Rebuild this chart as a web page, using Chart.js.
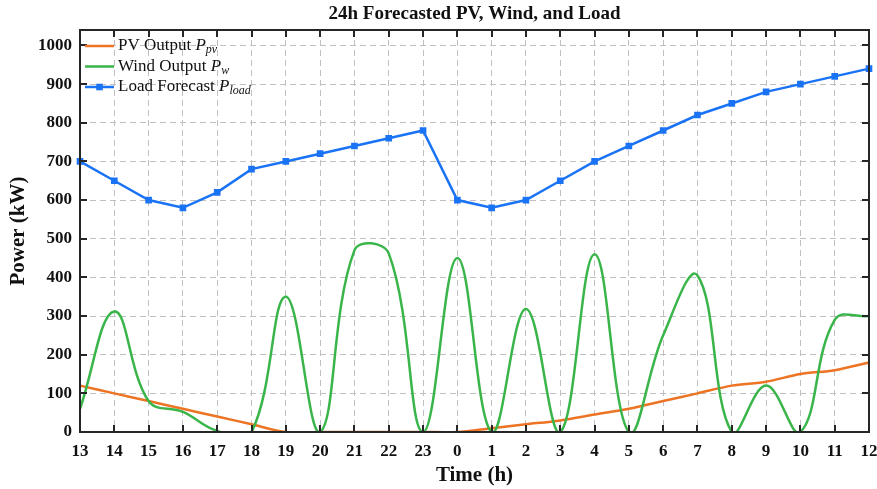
<!DOCTYPE html>
<html>
<head>
<meta charset="utf-8">
<script src="https://cdn.jsdelivr.net/npm/chart.js@4"></script>
<style>
  html, body { margin:0; padding:0; background:#fff; }
  #wrap { width:877px; height:489px; }
</style>
</head>
<body>
<div id="wrap"><canvas id="chartPower" width="877" height="489"></canvas></div>
<script>
// hours shown on the x axis (13:00 today to 12:00 tomorrow)
var hours = ['13','14','15','16','17','18','19','20','21','22','23','0','1','2','3','4','5','6','7','8','9','10','11','12'];
var pvOutput   = [120,100,80,60,40,20,0,0,0,0,0,0,10,20,30,45,60,80,100,120,130,150,160,180];
var windOutput = [60,312,80,52,3,0,350,0,470,462,0,450,0,318,0,460,0,250,405,0,120,0,290,300];
var loadForecast = [700,650,600,580,620,680,700,720,740,760,780,600,580,600,650,700,740,780,820,850,880,900,920,940];
var yTicks = [0,100,200,300,400,500,600,700,800,900,1000];

var serif = '"Liberation Serif", "Times New Roman", serif';
var axisColor = '#262626';
var colPV = '#ec7424', colWind = '#3ab54a', colLoad = '#1a73f5';

// matlab-like box with inward ticks
var boxPlugin = {
  id: 'boxPlugin',
  afterDatasetsDraw: function(chart){
    var ctx = chart.ctx, a = chart.chartArea;
    var sx = chart.scales.x, sy = chart.scales.y;
    var len = 7;
    ctx.save();
    ctx.strokeStyle = axisColor;
    ctx.lineWidth = 2;
    ctx.beginPath();
    for (var i = 0; i < hours.length; i++) {
      var x = Math.round(sx.getPixelForValue(i));
      ctx.moveTo(x, a.bottom); ctx.lineTo(x, a.bottom - len);
      ctx.moveTo(x, a.top);    ctx.lineTo(x, a.top + len);
    }
    for (var j = 0; j < yTicks.length; j++) {
      var y = Math.round(sy.getPixelForValue(yTicks[j]));
      ctx.moveTo(a.left, y);  ctx.lineTo(a.left + len, y);
      ctx.moveTo(a.right, y); ctx.lineTo(a.right - len, y);
    }
    ctx.stroke();
    ctx.strokeRect(a.left, a.top, a.right - a.left, a.bottom - a.top);
    ctx.restore();
  }
};

// legend with italic P and subscripts
var legendPlugin = {
  id: 'mathLegend',
  afterDraw: function(chart){
    var ctx = chart.ctx;
    var rows = [
      {c: colPV,   t: 'PV Output ',    s: 'pv',   m: false},
      {c: colWind, t: 'Wind Output ',  s: 'w',    m: false},
      {c: colLoad, t: 'Load Forecast ', s: 'load', m: true}
    ];
    var x0 = 85, x1 = 114, tx = 118, y0 = 46, dy = 20.5;
    ctx.save();
    ctx.textBaseline = 'middle';
    ctx.fillStyle = '#111';
    for (var i = 0; i < rows.length; i++) {
      var r = rows[i], y = y0 + i * dy;
      ctx.strokeStyle = r.c; ctx.lineWidth = 2.5;
      ctx.beginPath(); ctx.moveTo(x0, y); ctx.lineTo(x1, y); ctx.stroke();
      if (r.m) { ctx.fillStyle = r.c; ctx.fillRect((x0 + x1)/2 - 3.3, y - 3.3, 6.6, 6.6); ctx.fillStyle = '#111'; }
      var x = tx;
      ctx.font = '17px ' + serif;
      ctx.fillText(r.t, x, y); x += ctx.measureText(r.t).width;
      ctx.font = 'italic 17px ' + serif;
      ctx.fillText('P', x, y); x += ctx.measureText('P').width;
      ctx.font = 'italic 12px ' + serif;
      ctx.fillText(r.s, x, y + 4);
    }
    ctx.restore();
  }
};

var cxt = document.getElementById('chartPower');
var powerChart = new Chart(cxt, {
  type: 'line',
  data: {
    labels: hours,
    datasets: [
      { label: 'PV Output', data: pvOutput, borderColor: colPV, borderWidth: 2.5,
        pointRadius: 0, tension: 0.3, order: 3 },
      { label: 'Wind Output', data: windOutput, borderColor: colWind, borderWidth: 2.5,
        pointRadius: 0, tension: 0.4, clip: 0, order: 2 },
      { label: 'Load Forecast', data: loadForecast, borderColor: colLoad, backgroundColor: colLoad,
        borderWidth: 2.5, pointStyle: 'rect', pointRadius: 4.7, pointBorderWidth: 0,
        tension: 0, order: 1 }
    ]
  },
  options: {
    responsive: false,
    animation: false,
    layout: { padding: { left: 0, right: 8, top: 0, bottom: 0 } },
    elements: { line: { capBezierPoints: false } },
    plugins: {
      legend: { display: false },
      tooltip: { enabled: false },
      title: {
        display: true, fullSize: false,
        text: '24h Forecasted PV, Wind, and Load',
        color: '#111',
        font: { family: serif, size: 19, weight: 'bold' },
        padding: { top: 3, bottom: 4.2 }
      }
    },
    scales: {
      x: {
        offset: false,
        grid: { color: '#c0c0c0', lineWidth: 1, drawTicks: false },
        border: { display: false, dash: [6, 4] },
        ticks: { color: '#111', padding: 9, autoSkip: false, maxRotation: 0,
                 font: { family: serif, size: 17, weight: 'bold' } },
        title: { display: true, text: 'Time (h)', color: '#111',
                 font: { family: serif, size: 21, weight: 'bold' }, padding: { top: 0, bottom: 1 } },
        afterFit: function(s){ s.height = 57; s.paddingLeft = 0; s.paddingRight = 0; }
      },
      y: {
        min: 0, max: 1040,
        grid: { color: '#c0c0c0', lineWidth: 1, drawTicks: false },
        border: { display: false, dash: [6, 4] },
        afterBuildTicks: function(s){ s.ticks = yTicks.map(function(v){ return {value: v}; }); },
        ticks: { color: '#111', padding: 8,
                 font: { family: serif, size: 17, weight: 'bold' },
                 callback: function(v){ return String(v); } },
        title: { display: true, text: 'Power (kW)', color: '#111',
                 font: { family: serif, size: 21, weight: 'bold' }, padding: { top: 6, bottom: 0 } },
        afterFit: function(s){ s.width = 80; s.paddingTop = 0; s.paddingBottom = 0; }
      }
    }
  },
  plugins: [boxPlugin, legendPlugin]
});
</script>
</body>
</html>
